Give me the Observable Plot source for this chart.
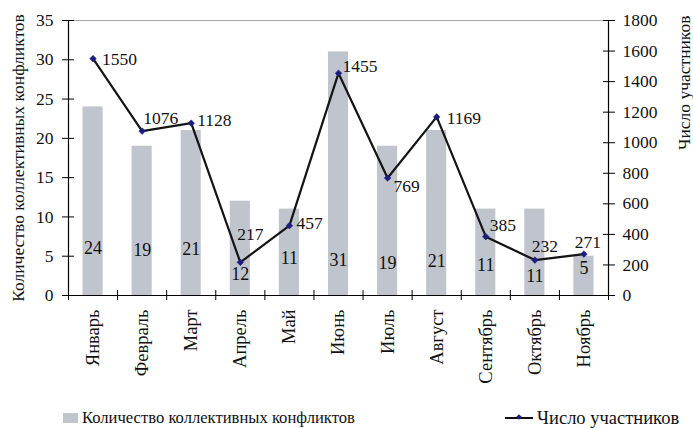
<!DOCTYPE html>
<html>
<head>
<meta charset="utf-8">
<script src="https://cdn.jsdelivr.net/npm/d3@7"></script>
<script src="https://cdn.jsdelivr.net/npm/@observablehq/plot@0.6"></script>
<style>
  html, body { margin: 0; padding: 0; background: #fff; }
  body { width: 693px; height: 428px; overflow: hidden; font-family: "Liberation Serif", "Times New Roman", serif; }
  #legend { position: relative; height: 28px; width: 693px; line-height: 22px; color: #111; }
  .item { position: absolute; top: 7px; display: flex; align-items: center; white-space: nowrap; }
  .sq { width: 15px; height: 10px; background: #c0c4cc; margin-right: 4px; }
  .ln { position: relative; width: 28px; height: 2px; background: #111; margin-right: 4px; }
  .ln::after { content: ""; position: absolute; left: 12px; top: -2px; width: 4px; height: 4px; background: #1c1c80; transform: rotate(45deg); }
</style>
</head>
<body>
<div id="chart"></div>
<div id="legend">
  <div class="item" style="left:63px;font-size:16.6px"><div class="sq"></div><span>Количество коллективных конфликтов</span></div>
  <div class="item" style="left:505px;font-size:18.5px"><div class="ln"></div><span>Число участников</span></div>
</div>
<script>
const months = ["Январь","Февраль","Март","Апрель","Май","Июнь","Июль","Август","Сентябрь","Октябрь","Ноябрь"];
const conflicts = [24, 19, 21, 12, 11, 31, 19, 21, 11, 11, 5];
const participants = [1550, 1076, 1128, 217, 457, 1455, 769, 1169, 385, 232, 271];
const leftTicks = [0, 5, 10, 15, 20, 25, 30, 35];
const rightTicks = [0, 200, 400, 600, 800, 1000, 1200, 1400, 1600, 1800];
const leftTitle = "Количество коллективных конфликтов";
const rightTitle = "Число участников";

// layout config (label placement)
const barLabelLevel = 4.8;
const barLabelDy = [-10, -8, -9, 16, 0, 2, 5, 3, 7, 18, 10];
const lineLabelPos = [
  ["start", 9, 1], ["start", 1, -13], ["start", 6, -3], ["middle", 10, -28],
  ["start", 7, -2], ["start", 4, -7], ["start", 6, 8], ["start", 10, 1],
  ["start", 4, -11], ["middle", 10, -14], ["middle", 4, -12]
];

const k = 35 / 1800;
const rows = months.map((m, i) => ({i, m, c: conflicts[i], p: participants[i], ps: participants[i] * k}));
const bw = 0.41;
const font = "'Liberation Serif', 'Times New Roman', serif";

const chart = Plot.plot({
  width: 693,
  height: 400,
  marginLeft: 68,
  marginRight: 85,
  marginTop: 20,
  marginBottom: 105,
  style: {fontFamily: font, fontSize: "17.5px", color: "#111", background: "#fff"},
  x: {domain: [0, 11], axis: null},
  y: {domain: [0, 35], axis: null},
  marks: [
    Plot.rectY(rows, {x1: d => d.i + 0.5 - bw / 2, x2: d => d.i + 0.5 + bw / 2, y1: 0, y2: "c", fill: "#c0c4cc"}),
    Plot.ruleY([35], {stroke: "#a8a8a8", strokeWidth: 1}),
    Plot.ruleX([0, 11], {y1: 0, y2: 35, stroke: "#000", strokeWidth: 1.2}),
    Plot.ruleY([0], {stroke: "#000", strokeWidth: 1.2}),
    // left axis
    Plot.axisY(leftTicks, {tickSize: 12, dx: 6, tickFormat: () => "", stroke: "#000"}),
    Plot.axisY(leftTicks, {tickSize: 0, tickPadding: 15, fontSize: 17.5, label: null}),
    // right axis
    Plot.axisY(rightTicks.map(v => v * k), {anchor: "right", tickSize: 12, dx: -6, tickFormat: () => "", stroke: "#000"}),
    Plot.axisY(rightTicks.map(v => v * k), {anchor: "right", tickSize: 0, tickPadding: 14, tickFormat: d => String(Math.round(d / k)), label: null}),
    // x axis
    Plot.axisX(d3.range(12), {tickSize: 10, dy: -5, tickFormat: () => "", stroke: "#000"}),
    Plot.axisX(d3.range(11).map(i => i + 0.5), {tickSize: 0, tickPadding: 14, tickRotate: -90, fontSize: 18.5, tickFormat: d => months[Math.floor(d)], label: null}),
    // line
    Plot.line(rows, {x: d => d.i + 0.5, y: "ps", stroke: "#141414", strokeWidth: 2.2}),
    Plot.dot(rows, {x: d => d.i + 0.5, y: "ps", symbol: "diamond2", r: 3, fill: "#1c1c80", stroke: "#1c1c80", strokeWidth: 0.5}),
    // bar value labels
    ...rows.map((d, j) => Plot.text([d], {x: d => d.i + 0.5, y: () => barLabelLevel, text: d => String(d.c), dy: barLabelDy[j], fill: "#111", fontSize: 18})),
    // line value labels
    ...rows.map((d, j) => Plot.text([d], {x: d => d.i + 0.5, y: "ps", text: d => String(d.p), textAnchor: lineLabelPos[j][0], dx: lineLabelPos[j][1], dy: lineLabelPos[j][2], fill: "#111"})),
    // axis titles
    Plot.text([leftTitle], {frameAnchor: "left", rotate: -90, dx: -50, textAnchor: "middle", fontSize: 17.5}),
    Plot.text([rightTitle], {frameAnchor: "top-right", rotate: -90, dx: 69, dy: -5, textAnchor: "end", fontSize: 17.5})
  ]
});
document.getElementById("chart").appendChild(chart);
</script>
</body>
</html>
